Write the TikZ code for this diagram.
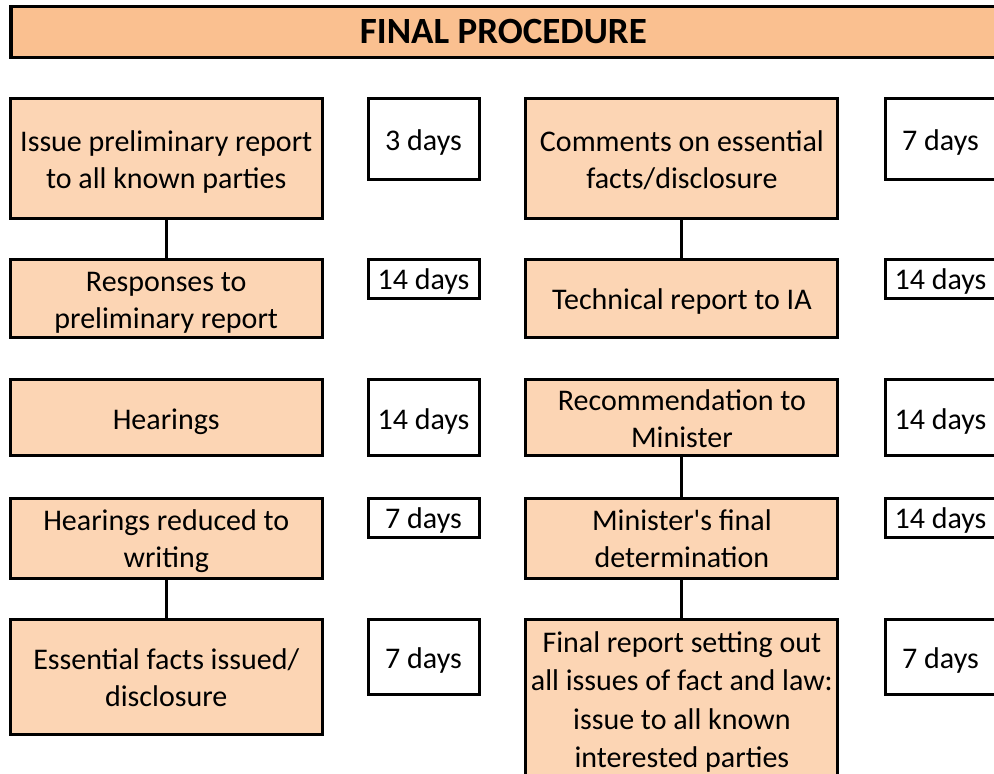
\documentclass[tikz,border=0pt]{standalone}
\usepackage{fontspec}
\setmainfont{Carlito}
\definecolor{titlefill}{HTML}{FAC090}
\definecolor{boxfill}{HTML}{FCD5B4}
\newcommand{\bodyfont}{\fontsize{30pt}{37pt}\selectfont}
\newcommand{\titlefont}{\fontsize{37pt}{40pt}\selectfont\bfseries}
% text block pushed slightly down inside its box, without changing its size
\newcommand{\tx}[1]{\vbox{\vskip4pt\hbox{\begin{tabular}{@{}c@{}}#1\end{tabular}}\vskip-4pt}}
\tikzset{
  stage/.style={draw, line width=3pt, fill=boxfill, font=\bodyfont, inner sep=0pt, minimum width=311.5pt},
  dur/.style={draw, line width=3pt, fill=white, font=\bodyfont, inner sep=0pt, minimum width=111pt},
  link/.style={line width=3pt},
}
\begin{document}
\begin{tikzpicture}[x=1pt,y=-1pt]
\useasboundingbox (0,0) rectangle (994,774);
\node[draw, line width=3.5pt, fill=titlefill, font=\titlefont, inner sep=0pt, minimum width=985.2pt, minimum height=51pt] (title) at (503.4,32) {FINAL PROCEDURE};

% left column
\node[stage, minimum height=119.5pt] (L1) at (166.25,158.25) {\tx{Issue preliminary report\\to all known parties}};
\node[stage, minimum height=78.5pt] (L2) at (166.25,298.25) {\tx{Responses to\\preliminary report}};
\node[stage, minimum height=75.8pt] (L3) at (166.25,417.6) {\tx{Hearings}};
\node[stage, minimum height=80pt] (L4) at (166.25,538) {\tx{Hearings reduced to\\writing}};
\node[stage, minimum height=115.7pt] (L5) at (166.25,676.85) {\tx{Essential facts issued/\\disclosure}};

\node[dur, minimum height=80.5pt] (D1) at (423.5,138.75) {\tx{3 days}};
\node[dur, minimum height=39pt] (D2) at (423.5,278.5) {\tx{14 days}};
\node[dur, minimum height=75.8pt] (D3) at (423.5,417.6) {\tx{14 days}};
\node[dur, minimum height=39pt] (D4) at (423.5,517.5) {\tx{7 days}};
\node[dur, minimum height=75.5pt] (D5) at (423.5,656.75) {\tx{7 days}};

% right column
\node[stage, minimum width=312pt, minimum height=119.5pt] (R1) at (681.9,158.25) {\tx{Comments on essential\\facts/disclosure}};
\node[stage, minimum width=312pt, minimum height=78.5pt] (R2) at (681.9,298.25) {\tx{Technical report to IA}};
\node[stage, minimum width=312pt, minimum height=75.8pt] (R3) at (681.9,417.6) {\tx{Recommendation to\\Minister}};
\node[stage, minimum width=312pt, minimum height=80pt] (R4) at (681.9,538) {\tx{Minister\textquotesingle s final\\determination}};
\node[stage, minimum width=312pt, minimum height=159pt, font=\fontsize{30pt}{38.5pt}\selectfont] (R5) at (681.9,698.5) {\tx{Final report setting out\\all issues of fact and law:\\issue to all known\\interested parties}};

\node[dur, minimum height=80.5pt] (E1) at (940.5,138.75) {\tx{7 days}};
\node[dur, minimum height=39pt] (E2) at (940.5,278.5) {\tx{14 days}};
\node[dur, minimum height=75.8pt] (E3) at (940.5,417.6) {\tx{14 days}};
\node[dur, minimum height=39pt] (E4) at (940.5,517.5) {\tx{14 days}};
\node[dur, minimum height=75.5pt] (E5) at (940.5,656.75) {\tx{7 days}};

\draw[link] (L1.south) -- (L2.north);
\draw[link] (L4.south) -- (L5.north);
\draw[link] (R1.south) -- (R2.north);
\draw[link] (R3.south) -- (R4.north);
\draw[link] (R4.south) -- (R5.north);
\end{tikzpicture}
\end{document}
